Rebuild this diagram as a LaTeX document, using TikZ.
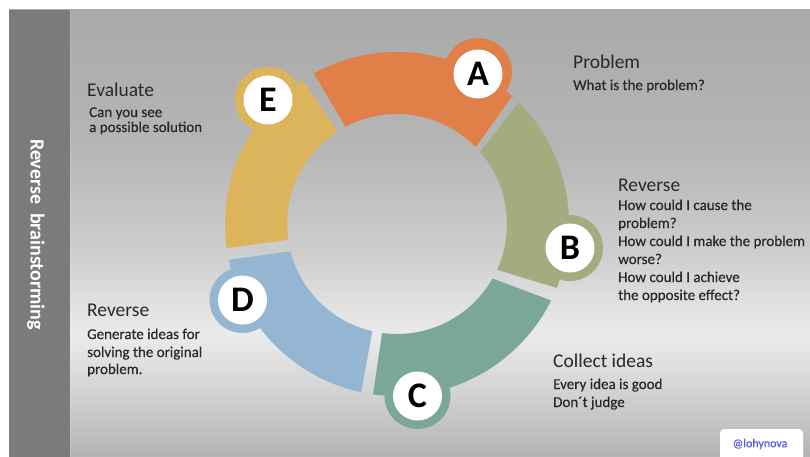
\documentclass[tikz,border=0pt]{standalone}
\usepackage{fontspec}
\setmainfont{Carlito}
\newfontfamily\semibody{Carlito}[FakeBold=0.45]
\usetikzlibrary{calc}

% palette
\definecolor{segOrange}{RGB}{224,127,72}
\definecolor{segGreen}{RGB}{163,172,127}
\definecolor{segTeal}{RGB}{122,167,153}
\definecolor{segBlue}{RGB}{148,182,211}
\definecolor{segYellow}{RGB}{220,180,92}
\definecolor{sidebar}{RGB}{123,123,123}
\definecolor{txt}{RGB}{40,40,40}
\definecolor{tag}{RGB}{88,88,230}

% background gradient, bottom (25bp) to top (75bp)
\definecolor{bgTop}{RGB}{169,169,169}
\definecolor{bgA}{RGB}{182,182,182}
\definecolor{bgB}{RGB}{205,205,205}
\definecolor{bgC}{RGB}{235,235,235}
\definecolor{bgD}{RGB}{207,207,207}
\definecolor{bgE}{RGB}{179,179,179}
\pgfdeclareverticalshading{bggrad}{100bp}{%
  color(0bp)=(bgE); color(25bp)=(bgE); color(31.4bp)=(bgD);
  color(38.6bp)=(bgC); color(48.2bp)=(bgB); color(59.3bp)=(bgA);
  color(75bp)=(bgTop); color(100bp)=(bgTop)}

\tikzset{
  head/.style={anchor=base west, inner sep=0pt, text=txt,
    font=\fontsize{19.5}{22}\selectfont},
  body/.style={anchor=base west, inner sep=0pt, text=txt,
    font=\semibody\fontsize{15}{18}\selectfont},
  badge/.style={circle, fill=white, minimum size=49pt, inner sep=0pt,
    text=black, font=\bfseries\fontsize{36}{36}\selectfont},
}

\begin{document}
\begin{tikzpicture}[x=1pt, y=1pt]
  \useasboundingbox (0,0) rectangle (810,-457);
  \fill[white] (0,0) rectangle (810,-457);
  \fill[shading=bggrad] (9,-10) rectangle (810,-457);

  % left band with the title
  \fill[sidebar] (9,-10) rectangle (70,-457);
  \draw[white, opacity=0.15, line width=1pt] (70,-10) -- (70,-457);
  \node[rotate=-90, text=white, inner sep=0pt,
        font=\bfseries\fontsize{20}{22}\selectfont] (title) at (36,-234.5)
        {Reverse\ \ brainstorming};

  % ring of five segments
  \begin{scope}[shift={(397,-224)}]
    \fill[segOrange] (48:172) arc[start angle=48, end angle=118.9, radius=172]
      -- (117.9:110) arc[start angle=117.9, end angle=44.3, radius=110] -- cycle;
    \fill[segGreen] (-21.8:172) arc[start angle=-21.8, end angle=45, radius=172]
      -- (41:110) arc[start angle=41, end angle=-24.6, radius=110] -- cycle;
    \fill[segTeal] (-98:172) arc[start angle=-98, end angle=-26.4, radius=172]
      -- (-29.7:110) arc[start angle=-29.7, end angle=-97.8, radius=110] -- cycle;
    \fill[segBlue] (-168:172) arc[start angle=-168, end angle=-102, radius=172]
      -- (-103:110) arc[start angle=-103, end angle=-165.6, radius=110] -- cycle;
    \fill[segYellow] (123.4:172) arc[start angle=123.4, end angle=188, radius=172]
      -- (188.3:110) arc[start angle=188.3, end angle=122.6, radius=110] -- cycle;
  \end{scope}

  % coloured rims behind the letter discs
  \fill[segOrange] (478,-72) circle[radius=34];
  \fill[segGreen]  (570,-248) circle[radius=33];
  \fill[segTeal]   (417.5,-396) circle[radius=33];
  \fill[segBlue]   (242.5,-300) circle[radius=33];
  \fill[segYellow] (268,-100) circle[radius=33];

  \node[badge] (A) at (478,-74) {A};
  \node[badge] (B) at (570,-248) {B};
  \node[badge] (C) at (417.5,-396) {C};
  \node[badge] (D) at (242.5,-300) {D};
  \node[badge] (E) at (268,-100) {E};

  % step descriptions
  \node[head] (hA) at (573,-69) {Problem};
  \node[body] (tA1) at (573,-90) {What is the problem?};

  \node[head] (hB) at (618,-191) {Reverse};
  \node[body] (tB1) at (618,-210) {How could I cause the};
  \node[body] (tB2) at (618,-228) {problem?};
  \node[body] (tB3) at (618,-246) {How could I make the problem};
  \node[body] (tB4) at (618,-264) {worse?};
  \node[body] (tB5) at (618,-282) {How could I achieve};
  \node[body] (tB6) at (618,-300) {the opposite effect?};

  \node[head] (hC) at (553,-367) {Collect ideas};
  \node[body] (tC1) at (553,-389) {Every idea is good};
  \node[body] (tC2) at (553,-407) {Don´t judge};

  \node[head] (hD) at (87,-316) {Reverse};
  \node[body] (tD1) at (87,-339) {Generate ideas for};
  \node[body] (tD2) at (87,-357) {solving the original};
  \node[body] (tD3) at (87,-374) {problem.};

  \node[head] (hE) at (87,-97) {Evaluate};
  \node[body] (tE1) at (89,-117) {Can you see};
  \node[body] (tE2) at (89,-132) {a possible solution};

  % handle tag
  \fill[white, rounded corners=4pt] (720,-429) rectangle (803,-462);
  \node[text=tag, inner sep=0pt, font=\semibody\fontsize{12}{14}\selectfont]
    (handle) at (760,-444) {@lohynova};
\end{tikzpicture}
\end{document}
